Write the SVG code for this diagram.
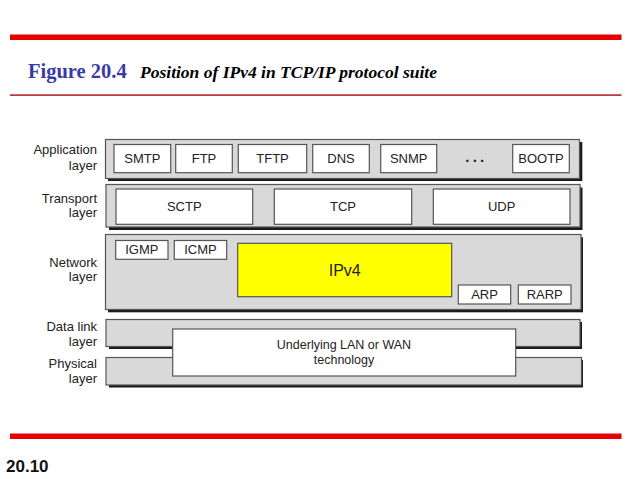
<svg xmlns="http://www.w3.org/2000/svg" width="638" height="479" viewBox="0 0 638 479">
<style>
.band{fill:#d9d9d9;stroke:#555;stroke-width:1.2}
.shadow{fill:#1a1a1a}
.box{fill:#fff;stroke:#555;stroke-width:1.2}
.ip{fill:#ffff00;stroke:#555;stroke-width:1.2}
.t{font-family:"Liberation Sans",Arial,sans-serif;font-size:13px;fill:#222;text-anchor:middle}
.big{font-size:16px}
.mid{font-size:12.5px}
.lbl{font-family:"Liberation Sans",Arial,sans-serif;font-size:13px;fill:#222;text-anchor:end}
</style>
<rect width="638" height="479" fill="#fff"/>
<g id="header">
<rect x="10" y="34.5" width="611.5" height="5.5" fill="#e60000"/>
<rect x="10" y="94.3" width="611.5" height="1.6" fill="#b02a2a"/>
<text x="28" y="78" font-family="'Liberation Serif','Times New Roman',serif" font-weight="bold" font-size="20.5" fill="#3a3aa6">Figure 20.4</text>
<text x="140" y="78" font-family="'Liberation Serif','Times New Roman',serif" font-weight="bold" font-style="italic" font-size="17" fill="#000" textLength="297" lengthAdjust="spacingAndGlyphs">Position of IPv4 in TCP/IP protocol suite</text>
</g>
<g id="footer">
<rect x="10" y="433.5" width="611.5" height="5.5" fill="#e60000"/>
<text x="6" y="471.5" font-family="'Liberation Sans',Arial,sans-serif" font-weight="bold" font-size="17" fill="#111">20.10</text>
</g>
<g id="labels">
<text class="lbl" x="97" y="154">Application</text>
<text class="lbl" x="97" y="169.5">layer</text>
<text class="lbl" x="97" y="202.5">Transport</text>
<text class="lbl" x="97" y="217">layer</text>
<text class="lbl" x="97" y="266.5">Network</text>
<text class="lbl" x="97" y="281">layer</text>
<text class="lbl" x="97" y="331">Data link</text>
<text class="lbl" x="97" y="346">layer</text>
<text class="lbl" x="97" y="367.5">Physical</text>
<text class="lbl" x="97" y="383">layer</text>
</g>
<g id="application-layer">
<rect class="shadow" x="108" y="142" width="474.3" height="39"/>
<rect class="band" x="105.5" y="139.5" width="474" height="39"/>
<g id="smtp"><rect class="box" x="114" y="144.5" width="56.7" height="28.2"/><text class="t" x="142.3" y="163">SMTP</text></g>
<g id="ftp"><rect class="box" x="175.7" y="144.5" width="56.6" height="28.2"/><text class="t" x="204" y="163">FTP</text></g>
<g id="tftp"><rect class="box" x="238.3" y="144.5" width="68.4" height="28.2"/><text class="t" x="272.5" y="163">TFTP</text></g>
<g id="dns"><rect class="box" x="312.7" y="144.5" width="56.6" height="28.2"/><text class="t" x="341" y="163">DNS</text></g>
<g id="snmp"><rect class="box" x="380.7" y="144.5" width="56" height="28.2"/><text class="t" x="408.7" y="163">SNMP</text></g>
<text x="465.2" y="161.5" font-family="'Liberation Sans',Arial,sans-serif" font-weight="bold" font-size="15" letter-spacing="3.3" fill="#222">...</text>
<g id="bootp"><rect class="box" x="512.7" y="144.5" width="56.6" height="28.2"/><text class="t" x="541" y="163">BOOTP</text></g>
</g>
<g id="transport-layer">
<rect class="shadow" x="109" y="187.5" width="473.5" height="42.5"/>
<rect class="band" x="106" y="184.5" width="474" height="42.5"/>
<g id="sctp"><rect class="box" x="116" y="189" width="136.7" height="35.3"/><text class="t" x="184.3" y="211.3">SCTP</text></g>
<g id="tcp"><rect class="box" x="274.3" y="189" width="137.4" height="35.3"/><text class="t" x="343" y="211.3">TCP</text></g>
<g id="udp"><rect class="box" x="433.3" y="189" width="136.7" height="35.3"/><text class="t" x="501.7" y="211.3">UDP</text></g>
</g>
<g id="network-layer">
<rect class="shadow" x="108" y="237.3" width="475" height="75"/>
<rect class="band" x="105.5" y="234.5" width="475.5" height="75"/>
<g id="igmp"><rect class="box" x="115.7" y="240.5" width="52.3" height="18.8"/><text class="t" x="141.8" y="254.4">IGMP</text></g>
<g id="icmp"><rect class="box" x="174.3" y="240.5" width="52.4" height="18.8"/><text class="t" x="200.5" y="254.4">ICMP</text></g>
<g id="ipv4"><rect class="ip" x="237.7" y="243.3" width="214" height="53.4"/><text class="t big" x="344.7" y="275.8">IPv4</text></g>
<g id="arp"><rect class="box" x="458.3" y="285" width="52.4" height="19"/><text class="t" x="484.5" y="299.2">ARP</text></g>
<g id="rarp"><rect class="box" x="518.3" y="285" width="52.7" height="19"/><text class="t" x="544.7" y="299.2">RARP</text></g>
</g>
<g id="data-link-layer">
<rect class="shadow" x="109" y="322" width="473" height="27"/>
<rect class="band" x="106" y="319.5" width="474" height="27"/>
</g>
<g id="physical-layer">
<rect class="shadow" x="109" y="360" width="474" height="27.5"/>
<rect class="band" x="106" y="357.5" width="475.5" height="27.5"/>
</g>
<g id="underlying">
<rect class="box" x="172.7" y="329" width="343" height="47"/>
<text class="t mid" x="344" y="349.3">Underlying LAN or WAN</text>
<text class="t mid" x="344" y="363.5">technology</text>
</g>
<g id="connectors"></g>
</svg>
